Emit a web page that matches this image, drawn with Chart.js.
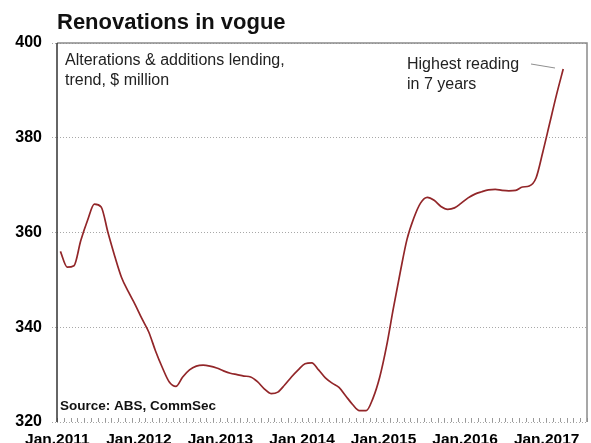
<!DOCTYPE html>
<html>
<head>
<meta charset="utf-8">
<script src="https://cdn.jsdelivr.net/npm/chart.js@4/dist/chart.umd.min.js"></script>
<style>
  html, body { margin: 0; padding: 0; background: #fff; }
  #wrap { width: 591px; height: 443px; }
</style>
</head>
<body>
<div id="wrap"><canvas id="c" width="591" height="443"></canvas></div>
<script>
// Monthly categories on the x axis (Jan 2011 - Jun 2017)
const months = [
  '2011-01','2011-02','2011-03','2011-04','2011-05','2011-06','2011-07','2011-08','2011-09','2011-10','2011-11','2011-12',
  '2012-01','2012-02','2012-03','2012-04','2012-05','2012-06','2012-07','2012-08','2012-09','2012-10','2012-11','2012-12',
  '2013-01','2013-02','2013-03','2013-04','2013-05','2013-06','2013-07','2013-08','2013-09','2013-10','2013-11','2013-12',
  '2014-01','2014-02','2014-03','2014-04','2014-05','2014-06','2014-07','2014-08','2014-09','2014-10','2014-11','2014-12',
  '2015-01','2015-02','2015-03','2015-04','2015-05','2015-06','2015-07','2015-08','2015-09','2015-10','2015-11','2015-12',
  '2016-01','2016-02','2016-03','2016-04','2016-05','2016-06','2016-07','2016-08','2016-09','2016-10','2016-11','2016-12',
  '2017-01','2017-02','2017-03','2017-04','2017-05','2017-06'
];

// Alterations & additions lending, trend, $ million (Jan 2011 - Mar 2017)
const lending = [
  356.0, 352.7, 353.0, 358.3, 362.6, 366.0, 365.4, 360.0, 355.0, 350.5, 347.5, 344.8,
  341.8, 339.0, 335.0, 331.5, 328.5, 327.5, 329.5, 331.0, 331.8, 332.0, 331.8, 331.4,
  330.8, 330.3, 330.0, 329.7, 329.5, 328.5, 327.0, 326.0, 326.3, 327.8, 329.5, 331.0,
  332.3, 332.5, 331.0, 329.3, 328.2, 327.3, 325.5, 323.7, 322.4, 322.4, 325.0, 329.5,
  336.0, 344.0, 351.5, 358.5, 363.0, 366.2, 367.4, 366.8, 365.5, 364.9, 365.2, 366.2,
  367.3, 368.1, 368.6, 369.0, 369.1, 368.9, 368.8, 368.9, 369.6, 369.8, 371.5, 377.0,
  383.0, 389.0, 394.5
];

// Year labels shown under each January
const yearTicks = ['Jan.2011', 'Jan.2012', 'Jan.2013', 'Jan 2014', 'Jan.2015', 'Jan.2016', 'Jan.2017'];
const yTicks = [320, 340, 360, 380, 400];

const FONT = "'Liberation Sans', Arial, sans-serif";

const decorations = {
  id: 'decorations',
  afterDraw(chart) {
    const { ctx, chartArea: a, scales: { x } } = chart;
    ctx.save();

    // bottom monthly tick marks, pointing up into the plot
    const step = x.getPixelForValue(1) - x.getPixelForValue(0);
    ctx.strokeStyle = '#9a9a9a';
    ctx.lineWidth = 1;
    ctx.beginPath();
    for (let i = 0; i <= months.length; i++) {
      const px = Math.round(x.getPixelForValue(0) - step / 2 + i * step) + 0.5;
      ctx.moveTo(px, a.bottom);
      ctx.lineTo(px, a.bottom - 4);
    }
    ctx.stroke();

    // frame: top and right in grey, left axis dark
    ctx.strokeStyle = '#8a8a8a';
    ctx.lineWidth = 1.5;
    ctx.beginPath();
    ctx.moveTo(a.left, a.top);
    ctx.lineTo(a.right, a.top);
    ctx.lineTo(a.right, a.bottom);
    ctx.stroke();
    ctx.strokeStyle = '#333';
    ctx.beginPath();
    ctx.moveTo(a.left, a.top);
    ctx.lineTo(a.left, a.bottom);
    ctx.stroke();

    // title
    ctx.fillStyle = '#111';
    ctx.textBaseline = 'alphabetic';
    ctx.textAlign = 'left';
    ctx.font = `bold 22px ${FONT}`;
    ctx.fillText('Renovations in vogue', 57, 29);

    // series description
    ctx.fillStyle = '#222';
    ctx.font = `16px ${FONT}`;
    ctx.fillText('Alterations & additions lending,', 65, 65);
    ctx.fillText('trend, $ million', 65, 85);

    // note on the latest reading
    ctx.fillText('Highest reading', 407, 69);
    ctx.fillText('in 7 years', 407, 89);
    ctx.strokeStyle = '#8f8f8f';
    ctx.lineWidth = 1;
    ctx.beginPath();
    ctx.moveTo(531, 64);
    ctx.lineTo(555, 68);
    ctx.stroke();

    // source
    ctx.fillStyle = '#111';
    ctx.font = `bold 13.5px ${FONT}`;
    ctx.fillText('Source: ABS, CommSec', 60, 410);

    ctx.restore();
  }
};

new Chart(document.getElementById('c'), {
  type: 'line',
  data: {
    labels: months,
    datasets: [{
      data: lending,
      borderColor: '#922629',
      borderWidth: 1.7,
      pointRadius: 0,
      cubicInterpolationMode: 'monotone',
      fill: false
    }]
  },
  options: {
    responsive: false,
    animation: false,
    layout: { padding: { top: 43, right: 4, left: 0, bottom: 0 } },
    plugins: { legend: { display: false }, tooltip: { enabled: false } },
    scales: {
      x: {
        type: 'category',
        offset: true,
        grid: { display: false },
        border: { display: false },
        ticks: {
          autoSkip: false,
          maxRotation: 0,
          minRotation: 0,
          padding: 0,
          labelOffset: -3,
          color: '#000',
          font: { family: FONT, size: 15.5, weight: 'bold' },
          callback(v) {
            const m = months[v];
            if (m.endsWith('-01')) return yearTicks[parseInt(m.slice(0, 4), 10) - 2011];
            return '';
          }
        },
        afterFit(s) { s.height = 21; }
      },
      y: {
        min: 320,
        max: 400,
        afterBuildTicks(s) { s.ticks = yTicks.map(v => ({ value: v })); },
        grid: {
          color: '#a8a8a8',
          lineWidth: 1,
          tickLength: 5,
          tickColor: '#a8a8a8',
          tickBorderDash: [1, 2]
        },
        border: { display: false, dash: [1, 2] },
        ticks: {
          padding: 10,
          color: '#000',
          font: { family: FONT, size: 16, weight: 'bold' }
        },
        afterFit(s) { s.width = 57; }
      }
    }
  },
  plugins: [decorations]
});
</script>
</body>
</html>
